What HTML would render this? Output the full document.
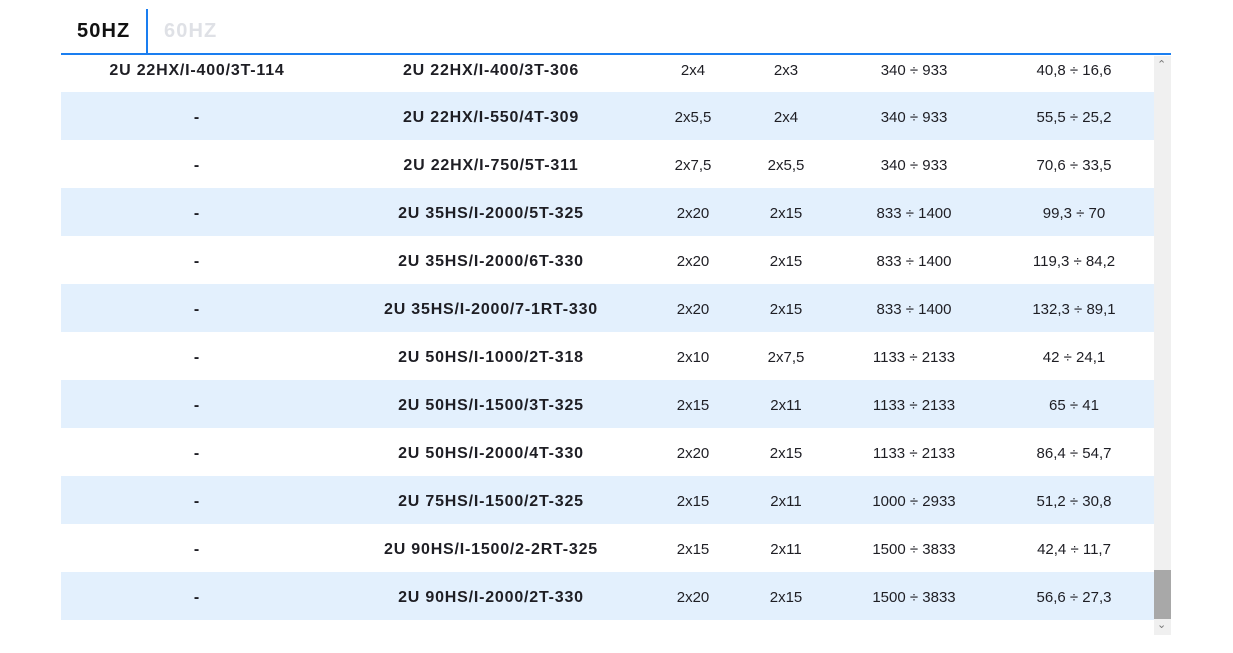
<!DOCTYPE html>
<html><head><meta charset="utf-8"><style>
*{margin:0;padding:0;box-sizing:border-box}
body{width:1233px;height:653px;background:#fff;position:relative;overflow:hidden;font-family:"Liberation Sans",sans-serif;color:#1e1e24}
.tab{position:absolute;top:20px;font-weight:bold;font-size:20px;letter-spacing:1.1px}
.row{position:absolute;left:61px;width:1093px;height:48px}
.row.b{background:#e3f0fd}
.c{position:absolute;top:2px;height:48px;line-height:48px;text-align:center;font-size:15px;white-space:nowrap;letter-spacing:0px}
.bo{font-weight:bold;font-size:16px;letter-spacing:0.8px}
</style></head><body>
<div class="tab" style="left:77px;color:#111">50HZ</div>
<div class="tab" style="left:164px;color:#dfe1e6">60HZ</div>
<div style="position:absolute;left:146px;top:9px;width:2px;height:46px;background:#1a7ef0"></div>
<div style="position:absolute;left:61px;top:53px;width:1110px;height:2px;background:#1a7ef0"></div>
<div style="position:absolute;left:1154px;top:56px;width:17px;height:579px;background:#f0f0f0"></div>
<div style="position:absolute;left:1154px;top:570px;width:17px;height:49px;background:#a8a8a8"></div>
<div style="position:absolute;left:1157px;top:58px;font-size:11px;color:#777">&#8963;</div>
<div style="position:absolute;left:1157px;top:618px;font-size:11px;color:#777">&#8964;</div>
<div id="t"></div>
<script>
var d=[["2U 22HX/I-400/3T-114","2U 22HX/I-400/3T-306","2x4","2x3","340 ÷ 933","40,8 ÷ 16,6"],
["-","2U 22HX/I-550/4T-309","2x5,5","2x4","340 ÷ 933","55,5 ÷ 25,2"],
["-","2U 22HX/I-750/5T-311","2x7,5","2x5,5","340 ÷ 933","70,6 ÷ 33,5"],
["-","2U 35HS/I-2000/5T-325","2x20","2x15","833 ÷ 1400","99,3 ÷ 70"],
["-","2U 35HS/I-2000/6T-330","2x20","2x15","833 ÷ 1400","119,3 ÷ 84,2"],
["-","2U 35HS/I-2000/7-1RT-330","2x20","2x15","833 ÷ 1400","132,3 ÷ 89,1"],
["-","2U 50HS/I-1000/2T-318","2x10","2x7,5","1133 ÷ 2133","42 ÷ 24,1"],
["-","2U 50HS/I-1500/3T-325","2x15","2x11","1133 ÷ 2133","65 ÷ 41"],
["-","2U 50HS/I-2000/4T-330","2x20","2x15","1133 ÷ 2133","86,4 ÷ 54,7"],
["-","2U 75HS/I-1500/2T-325","2x15","2x11","1000 ÷ 2933","51,2 ÷ 30,8"],
["-","2U 90HS/I-1500/2-2RT-325","2x15","2x11","1500 ÷ 3833","42,4 ÷ 11,7"],
["-","2U 90HS/I-2000/2T-330","2x20","2x15","1500 ÷ 3833","56,6 ÷ 27,3"]];
var cx=[197,491,693,786,914,1074],h="";
d.forEach(function(r,i){var top=i==0?45:92+(i-1)*48;
h+='<div class="row'+(i%2?' b':'')+'" style="top:'+top+'px'+(i==0?';clip-path:inset(11px 0 0 0)':'')+'">';
r.forEach(function(t,j){h+='<div class="c'+(j<2?' bo':'')+'" style="left:'+(cx[j]-61-150)+'px;width:300px">'+t+'</div>'});
h+='</div>'});
document.getElementById('t').innerHTML=h;
</script>
</body></html>
